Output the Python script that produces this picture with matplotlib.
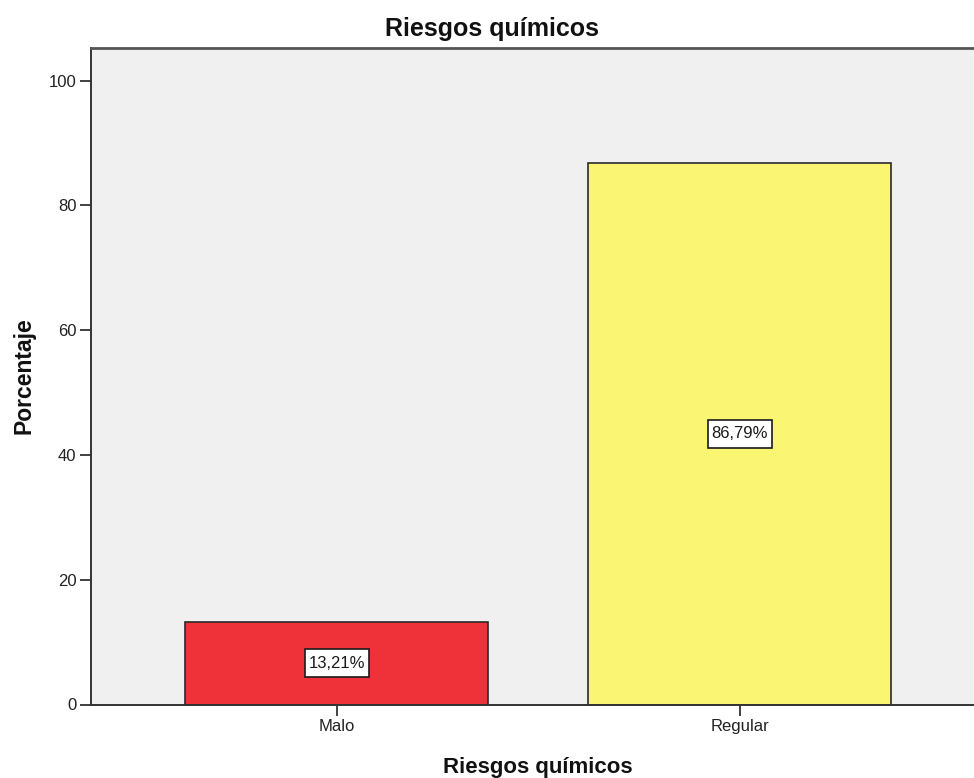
import matplotlib
matplotlib.use("Agg")
import matplotlib.pyplot as plt
from matplotlib.path import Path

plt.rcParams['font.family'] = ['Liberation Sans', 'DejaVu Sans']

# Data
categories = ["Malo", "Regular"]
percentages = [13.21, 86.79]
value_labels = ["13,21%", "86,79%"]
bar_colors = ["#EF323A", "#FAF572"]
y_ticks = [0, 20, 40, 60, 80, 100]

W, H = 974, 778
fig = plt.figure(figsize=(W / 100, H / 100), dpi=100)
fig.patch.set_facecolor("white")

# axes box in pixel coordinates (left, top, right, bottom)
left_px, top_px, right_px, bottom_px = 91, 47.5, 974, 704.5
ax = fig.add_axes([left_px / W, 1 - bottom_px / H,
                   (right_px - left_px) / W, (bottom_px - top_px) / H])
ax.set_facecolor("#F0F0F0")


def label_box(x0, y0, width, height, mutation_size):
    """Rectangular box with more vertical than horizontal padding."""
    padx = 0.22 * mutation_size
    pady = 0.40 * mutation_size
    x0, y0 = x0 - padx, y0 - pady
    x1, y1 = x0 + width + 2 * padx, y0 + height + 2 * pady
    return Path([(x0, y0), (x1, y0), (x1, y1), (x0, y1), (x0, y0)],
                closed=True)


x = list(range(len(categories)))
ax.bar(x, percentages, width=0.752, color=bar_colors,
       edgecolor="#2a2a2a", linewidth=1.2, zorder=2)

for xi, v, lab in zip(x, percentages, value_labels):
    ax.text(xi, v / 2, lab, ha="center", va="center", fontsize=12,
            color="#1a1a1a", zorder=3,
            bbox=dict(boxstyle=label_box, facecolor="white",
                      edgecolor="#1a1a1a", linewidth=1.2))

ax.set_xlim(-0.610, 1.581)
ax.set_ylim(0, 105.3)
ax.set_xticks(x)
ax.set_xticklabels(categories)
ax.set_yticks(y_ticks)

ax.tick_params(axis="both", direction="out", length=8, width=1.3,
               colors="#333333", labelsize=12, labelcolor="#222222", pad=2.5)

for side in ("left", "bottom"):
    ax.spines[side].set_color("#333333")
    ax.spines[side].set_linewidth(1.4)
ax.spines["top"].set_color("#555555")
ax.spines["top"].set_linewidth(2)
ax.spines["right"].set_visible(False)

fig.text(492 / W, 1 - 35.7 / H, "Riesgos químicos", ha="center",
         va="baseline", fontsize=18, fontweight="bold", color="#111111")
fig.text(538 / W, 1 - 773.3 / H, "Riesgos químicos", ha="center",
         va="baseline", fontsize=16, fontweight="bold", color="#111111")
fig.text(24 / W, 1 - 376 / H, "Porcentaje", ha="center", va="center",
         rotation=90, fontsize=16.5, fontweight="bold", color="#111111")

fig.savefig("out.png", dpi=100, facecolor="white")
